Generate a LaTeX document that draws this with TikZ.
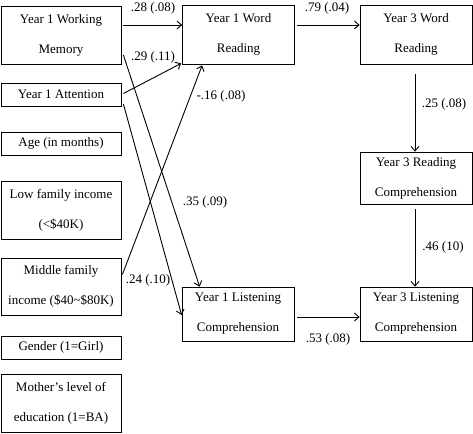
\documentclass[tikz,border=0pt]{standalone}
\usepackage{fontspec}
\setmainfont{Liberation Serif}
\usetikzlibrary{arrows.meta}
\begin{document}
\begin{tikzpicture}[x=1pt,y=-1pt,
  box/.style={draw,line width=0.8pt,align=center,inner sep=0pt,
    font=\fontsize{13}{30}\selectfont},
  wide/.style={box,minimum width=120pt},
  mid/.style={box,minimum width=112pt},
  tall/.style={minimum height=58pt},
  short/.style={minimum height=23pt},
  arr/.style={-{Straight Barb[length=4.5pt,width=8pt]},line width=0.9pt},
  lab/.style={font=\fontsize{13}{15}\selectfont,inner sep=0pt}]
\useasboundingbox (0,0) rectangle (473,433);
% left column
\node[wide,tall] (wm) at (61,35) {Year 1 Working\\Memory};
\node[wide,short] (att) at (61,94.5) {Year 1 Attention};
\node[wide,short] (age) at (61,143.5) {Age (in months)};
\node[wide,tall] (low) at (61,210) {Low family income\\(<\$40K)};
\node[wide,minimum height=57pt] (midinc) at (61,286.5) {Middle family\\income (\$40\textasciitilde\$80K)};
\node[wide,short] (gen) at (61,347.5) {Gender (1=Girl)};
\node[wide,tall] (mom) at (61,403) {Mother’s level of\\education (1=BA)};
% middle and right
\node[mid,minimum height=59pt] (y1wr) at (238.5,34.5) {Year 1 Word\\Reading};
\node[mid,minimum height=59pt] (y3wr) at (416,34.5) {Year 3 Word\\Reading};
\node[mid,minimum height=52pt] (y3rc) at (416,178) {Year 3 Reading\\Comprehension};
\node[mid,minimum height=54pt] (y1lc) at (238,314) {Year 1 Listening\\Comprehension};
\node[mid,minimum height=54pt] (y3lc) at (416,314) {Year 3 Listening\\Comprehension};
% arrows
\draw[arr] ([shift={(2pt,10pt)}]wm.east) -- ([yshift=9.5pt]y1wr.west);
\draw[arr] ([shift={(2pt,1pt)}]att.east) -- ([shift={(-1pt,1pt)}]y1wr.south west);
\draw[arr] ([shift={(2pt,-20pt)}]wm.east) -- ([xshift=18pt]y1lc.north west);
\draw[arr] ([shift={(2pt,-9.5pt)}]att.east) -- ([yshift=-1pt]y1lc.west);
\draw[arr] ([shift={(1pt,12pt)}]midinc.east) -- ([shift={(20pt,-1pt)}]y1wr.south west);
\draw[arr] ([shift={(2pt,9.5pt)}]y1wr.east) -- ([yshift=9.5pt]y3wr.west);
\draw[arr] ([shift={(-1pt,-10pt)}]y3wr.south) -- ([xshift=-1pt]y3rc.north);
\draw[arr] ([shift={(-1pt,-5pt)}]y3rc.south) -- ([xshift=-1pt]y3lc.north);
\draw[arr] ([shift={(3pt,-3pt)}]y1lc.east) -- ([yshift=-3pt]y3lc.west);
% labels
\node[lab] (l1) at (153,8) {.28 (.08)};
\node[lab] (l2) at (153,57) {.29 (.11)};
\node[lab] (l3) at (221,96) {-.16 (.08)};
\node[lab] (l4) at (205,202) {.35 (.09)};
\node[lab] (l5) at (148,280) {.24 (.10)};
\node[lab] (l6) at (327,8) {.79 (.04)};
\node[lab] (l7) at (444,104) {.25 (.08)};
\node[lab] (l8) at (443,247) {.46 (10)};
\node[lab] (l9) at (328,339) {.53 (.08)};
\end{tikzpicture}
\end{document}
